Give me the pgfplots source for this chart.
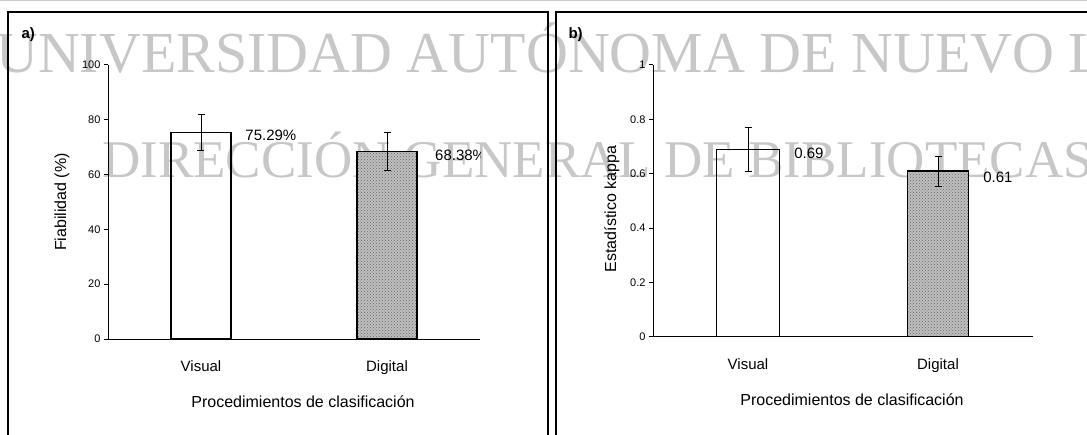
\documentclass[border=0pt]{standalone}
\usepackage{pgfplots}
\pgfplotsset{compat=1.18}
\usepackage{fontspec}
\setmainfont{Liberation Sans}
\newfontfamily\wmfont{Liberation Serif}
\usetikzlibrary{patterns}
\begin{document}
\begin{tikzpicture}
\useasboundingbox (0pt,0pt) rectangle (1087pt,434pt);
\clip (0pt,0pt) rectangle (1087pt,434pt);
\fill[white] (0pt,0pt) rectangle (1087pt,434pt);
% watermark
\node[anchor=base west, text=black!22, font=\wmfont\fontsize{58}{58}\selectfont, inner sep=0pt] at (-4pt,361pt) {UNIVERSIDAD AUTÓNOMA DE NUEVO LEÓN};
\node[anchor=base west, text=black!22, font=\wmfont\fontsize{53}{53}\selectfont, inner sep=0pt] at (102pt,256pt) {DIRECCIÓN GENERAL DE BIBLIOTECAS};
% frames
\draw[black!20, line width=1pt] (0pt,433pt) -- (1087pt,433pt);
\draw[line width=1.5pt] (8pt,-5pt) -- (8pt,422pt) -- (548pt,422pt) -- (548pt,-5pt);
\draw[line width=1.5pt] (556pt,-5pt) -- (556pt,422pt) -- (1095pt,422pt);
\node[anchor=west, font=\bfseries\fontsize{15}{15}\selectfont] at (18pt,399pt) {a)};
\node[anchor=west, font=\bfseries\fontsize{15}{15}\selectfont] at (565pt,399pt) {b)};
\pgfplotsset{
  myaxis/.style={
    anchor=south west, scale only axis,
    xmin=-0.5, xmax=1.5,
    axis x line*=bottom, axis y line*=left,
    axis line style={black, line width=1pt, -},
    xtick={0,1}, xticklabels={Visual,Digital},
    xtick style={draw=none},
    ytick style={black, line width=1pt},
    tick align=outside, major tick length=4pt,
    /pgf/number format/assume math mode=true,
    y tick label style={font=\fontsize{11}{11}\selectfont},
    x tick label style={font=\fontsize{15}{15}\selectfont, anchor=base, yshift=-28pt},
    label style={font=\fontsize{16}{16}\selectfont},
    xlabel={Procedimientos de clasificación},
    xlabel style={at={(axis description cs:0.5,0)}, anchor=base, yshift=-68pt, xshift=9pt},
  },
  errstyle/.style={error bars/.cd, y dir=both, y explicit,
    error bar style={black, line width=1pt},
    error mark options={rotate=90, mark size=3.5pt, line width=1pt, black}},
}
\begin{axis}[myaxis, at={(108pt,95pt)}, width=372pt, height=274pt,
  ymin=0, ymax=100, ytick={0,20,40,60,80,100},
  ylabel={Fiabilidad (\%)},
  ylabel style={at={(axis description cs:0,0.5)}, anchor=center, yshift=46pt}]
\addplot[ybar, bar shift=0pt, bar width=0.32, draw=black, line width=1.5pt, fill=none, errstyle]
  coordinates {(0,75.29) +- (0,6.5)};
\addplot[ybar, bar shift=0pt, bar width=0.32, draw=black, line width=1.5pt, fill=black!25,
  postaction={pattern=crosshatch dots, pattern color=black!60}, errstyle]
  coordinates {(1,68.38) +- (0,7)};
\node[anchor=west, font=\fontsize{15}{15}\selectfont] at (axis cs:0.22,74.5) {75.29\%};
\node[anchor=west, font=\fontsize{15}{15}\selectfont] at (axis cs:1.24,67.2) {68.38\%};
\end{axis}
\begin{axis}[myaxis, at={(653pt,97pt)}, width=380pt, height=272pt,
  ymin=0, ymax=1, ytick={0,0.2,0.4,0.6,0.8,1},
  ylabel={Estadístico kappa},
  ylabel style={at={(axis description cs:0,0.5)}, anchor=center, yshift=41pt, xshift=-8pt}]
\addplot[ybar, bar shift=0pt, bar width=0.33, draw=black, line width=1.5pt, fill=none, errstyle]
  coordinates {(0,0.69) +- (0,0.08)};
\addplot[ybar, bar shift=0pt, bar width=0.32, draw=black, line width=1.5pt, fill=black!25,
  postaction={pattern=crosshatch dots, pattern color=black!60}, errstyle]
  coordinates {(1,0.61) +- (0,0.055)};
\node[anchor=west, font=\fontsize{15}{15}\selectfont] at (axis cs:0.225,0.676) {0.69};
\node[anchor=west, font=\fontsize{15}{15}\selectfont] at (axis cs:1.22,0.588) {0.61};
\end{axis}
\end{tikzpicture}
\end{document}
